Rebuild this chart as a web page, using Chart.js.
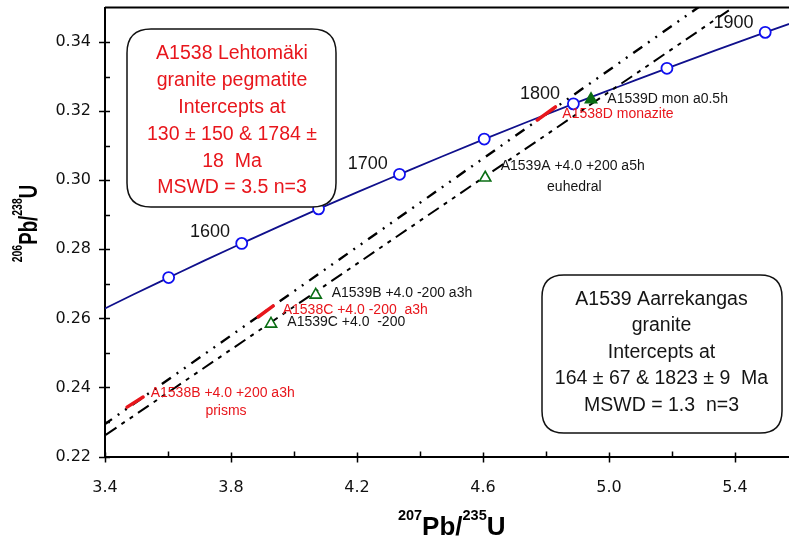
<!DOCTYPE html>
<html>
<head>
<meta charset="utf-8">
<script src="https://cdn.jsdelivr.net/npm/chart.js@4.4.1/dist/chart.umd.min.js"></script>
<style>
  html, body { margin: 0; padding: 0; background: #fff; }
  #chart { display: block; }
</style>
</head>
<body>
<canvas id="chart" width="789" height="541"></canvas>
<script>
// concordia curve, read at 25 Ma steps
var concordiaAges = [1500, 1525, 1550, 1575, 1600, 1625, 1650, 1675, 1700, 1725, 1750, 1775, 1800, 1825, 1850, 1875, 1900, 1925, 1950];
var concordiaX = [3.381, 3.490, 3.602, 3.717, 3.834, 3.955, 4.078, 4.205, 4.335, 4.468, 4.604, 4.744, 4.887, 5.034, 5.184, 5.338, 5.496, 5.658, 5.825];
var concordiaY = [0.2620, 0.2669, 0.2718, 0.2768, 0.2817, 0.2867, 0.2917, 0.2967, 0.3017, 0.3068, 0.3119, 0.3170, 0.3221, 0.3272, 0.3324, 0.3376, 0.3428, 0.3480, 0.3532];
var markerAges = [1550, 1600, 1650, 1700, 1750, 1800, 1850, 1900];

// discordia lines (two points each, beyond the plot edges)
var discordia1538X = [3.30, 5.40];
var discordia1538Y = [0.2230, 0.3575];
var discordia1539X = [3.30, 5.50];
var discordia1539Y = [0.2199, 0.3566];

// A1538 error ellipses (ends of each)
var a1538Names = ['A1538B', 'A1538C', 'A1538D'];
var a1538X = [[3.470, 3.521], [3.886, 3.934], [4.772, 4.830]];
var a1538Y = [[0.2343, 0.2372], [0.2604, 0.2636], [0.3174, 0.3212]];

// A1539 analyses
var a1539Names = ['A1539A', 'A1539B', 'A1539C', 'A1539D'];
var a1539X = [4.607, 4.069, 3.927, 4.943];
var a1539Y = [0.3007, 0.2668, 0.2584, 0.3234];
var a1539Filled = [false, false, false, true];

// axes
var xTicks = [3.4, 3.8, 4.2, 4.6, 5.0, 5.4];
var xMinor = [3.6, 4.0, 4.4, 4.8, 5.2];
var yTicks = [0.22, 0.24, 0.26, 0.28, 0.30, 0.32, 0.34];
var yMinor = [0.23, 0.25, 0.27, 0.29, 0.31, 0.33];

var RED = '#e8161c';
var GREEN = '#0a6e14';
var TXT = '#151515';

// text labels (pixel layout)
var labels = [
  { t: '1600', x: 210, y: 237.4, size: 18, c: TXT, a: 'center' },
  { t: '1700', x: 367.7, y: 169, size: 18, c: TXT, a: 'center' },
  { t: '1800', x: 540, y: 99, size: 18, c: TXT, a: 'center' },
  { t: '1900', x: 733.5, y: 27.8, size: 18, c: TXT, a: 'center' },
  { t: 'A1539D mon a0.5h', x: 607.3, y: 102.5, size: 14, c: TXT, a: 'left' },
  { t: 'A1538D monazite', x: 562.3, y: 118.3, size: 14, c: RED, a: 'left' },
  { t: 'A1539A +4.0 +200 a5h', x: 500.7, y: 170, size: 14, c: TXT, a: 'left' },
  { t: 'euhedral', x: 574.3, y: 190.5, size: 14, c: TXT, a: 'center' },
  { t: 'A1539B +4.0 -200 a3h', x: 331.7, y: 296.7, size: 14, c: TXT, a: 'left' },
  { t: 'A1538C +4.0 -200  a3h', x: 282.7, y: 314.3, size: 14, c: RED, a: 'left' },
  { t: 'A1539C +4.0  -200', x: 287.3, y: 325.7, size: 14, c: TXT, a: 'left' },
  { t: 'A1538B +4.0 +200 a3h', x: 150.7, y: 396.7, size: 14, c: RED, a: 'left' },
  { t: 'prisms', x: 226, y: 415, size: 14, c: RED, a: 'center' }
];

var boxes = [
  { x0: 127, y0: 29, x1: 336, y1: 207, r: 24, c: RED, cx: 232,
    lines: ['A1538 Lehtomäki', 'granite pegmatite', 'Intercepts at', '130 ± 150 & 1784 ±', '18  Ma', 'MSWD = 3.5 n=3'],
    base: [59.3, 86.1, 112.9, 139.7, 166.5, 193.3] },
  { x0: 542, y0: 275, x1: 782, y1: 433, r: 22, c: TXT, cx: 661.5,
    lines: ['A1539 Aarrekangas', 'granite', 'Intercepts at', '164 ± 67 & 1823 ± 9  Ma', 'MSWD = 1.3  n=3'],
    base: [304.7, 331.2, 357.7, 384.2, 410.7] }
];

function pts(xs, ys) {
  return xs.map(function (x, i) { return { x: x, y: ys[i] }; });
}

var markerPts = markerAges.map(function (a) {
  var i = concordiaAges.indexOf(a);
  return { x: concordiaX[i], y: concordiaY[i] };
});

var datasets = [];
datasets.push({
  label: 'A1539', data: pts(a1539X, a1539Y), order: 0,
  pointStyle: 'triangle', pointRadius: 6.5, borderWidth: 1.6,
  borderColor: GREEN,
  backgroundColor: a1539Filled.map(function (f) { return f ? GREEN : '#fff'; })
});
datasets.push({
  label: 'ages', data: markerPts, order: 1,
  pointStyle: 'circle', pointRadius: 5.5, borderWidth: 1.8,
  borderColor: '#1010f0', backgroundColor: '#fff'
});
a1538Names.forEach(function (n, i) {
  datasets.push({
    label: n, data: pts(a1538X[i], a1538Y[i]), order: 2,
    showLine: true, pointRadius: 0, borderWidth: 3.5, borderCapStyle: 'round',
    borderColor: RED
  });
});
datasets.push({
  label: 'disc A1538', data: pts(discordia1538X, discordia1538Y), order: 3,
  showLine: true, pointRadius: 0, borderWidth: 2.4, borderColor: '#000',
  borderDash: [11, 7, 2, 7, 2, 7]
});
datasets.push({
  label: 'disc A1539', data: pts(discordia1539X, discordia1539Y), order: 3,
  showLine: true, pointRadius: 0, borderWidth: 2, borderColor: '#000',
  borderDash: [13, 6, 4, 6, 4, 6]
});
datasets.push({
  label: 'concordia', data: pts(concordiaX, concordiaY), order: 4,
  showLine: true, pointRadius: 0, borderWidth: 1.8, borderColor: '#10108c',
  cubicInterpolationMode: 'monotone'
});

function roundBox(ctx, x0, y0, x1, y1, r) {
  ctx.beginPath();
  ctx.moveTo(x0 + r, y0);
  ctx.lineTo(x1 - r, y0);
  ctx.quadraticCurveTo(x1, y0, x1, y0 + r);
  ctx.lineTo(x1, y1 - r);
  ctx.quadraticCurveTo(x1, y1, x1 - r, y1);
  ctx.lineTo(x0 + r, y1);
  ctx.quadraticCurveTo(x0, y1, x0, y1 - r);
  ctx.lineTo(x0, y0 + r);
  ctx.quadraticCurveTo(x0, y0, x0 + r, y0);
  ctx.closePath();
}

// 207Pb/235U style title with superscripts, centred on x, baseline y
function richTitle(ctx, parts, x, y) {
  var big = 'bold 26px "Liberation Sans", Arial, sans-serif';
  var small = 'bold 14.5px "Liberation Sans", Arial, sans-serif';
  var w = 0;
  parts.forEach(function (p) { ctx.font = p.sup ? small : big; w += ctx.measureText(p.t).width; });
  var cx = x - w / 2;
  ctx.textAlign = 'left';
  ctx.textBaseline = 'alphabetic';
  parts.forEach(function (p) {
    ctx.font = p.sup ? small : big;
    ctx.fillText(p.t, cx, p.sup ? y - 15 : y);
    cx += ctx.measureText(p.t).width;
  });
}

function noPad(s) {
  s.paddingTop = 0; s.paddingBottom = 0; s.paddingLeft = 0; s.paddingRight = 0;
}

var overlay = {
  id: 'overlay',
  afterDraw: function (chart) {
    var ctx = chart.ctx, area = chart.chartArea;
    var xs = chart.scales.x, ys = chart.scales.y;
    ctx.save();
    ctx.strokeStyle = '#000';
    ctx.lineWidth = 2;
    ctx.beginPath();
    ctx.moveTo(area.left, area.top);
    ctx.lineTo(area.right, area.top);
    ctx.stroke();

    ctx.lineWidth = 1.5;
    ctx.beginPath();
    xTicks.forEach(function (v) {
      var p = Math.round(xs.getPixelForValue(v)) + 0.5;
      ctx.moveTo(p, area.bottom - 4); ctx.lineTo(p, area.bottom + 6);
    });
    xMinor.forEach(function (v) {
      var p = Math.round(xs.getPixelForValue(v)) + 0.5;
      ctx.moveTo(p, area.bottom - 5); ctx.lineTo(p, area.bottom);
    });
    yTicks.forEach(function (v) {
      var p = Math.round(ys.getPixelForValue(v)) + 0.5;
      ctx.moveTo(area.left - 6, p); ctx.lineTo(area.left + 5, p);
    });
    yMinor.forEach(function (v) {
      var p = Math.round(ys.getPixelForValue(v)) + 0.5;
      ctx.moveTo(area.left, p); ctx.lineTo(area.left + 5, p);
    });
    ctx.stroke();

    boxes.forEach(function (b) {
      roundBox(ctx, b.x0, b.y0, b.x1, b.y1, b.r);
      ctx.fillStyle = '#fff';
      ctx.fill();
      ctx.lineWidth = 1.5;
      ctx.strokeStyle = '#111';
      ctx.stroke();
      ctx.fillStyle = b.c;
      ctx.font = '19.5px "Liberation Sans", Arial, sans-serif';
      ctx.textAlign = 'center';
      ctx.textBaseline = 'alphabetic';
      b.lines.forEach(function (l, i) { ctx.fillText(l, b.cx, b.base[i]); });
    });

    labels.forEach(function (l) {
      ctx.fillStyle = l.c;
      ctx.font = l.size + 'px "Liberation Sans", Arial, sans-serif';
      ctx.textAlign = l.a;
      ctx.textBaseline = 'alphabetic';
      ctx.fillText(l.t, l.x, l.y);
    });

    ctx.fillStyle = '#000';
    richTitle(ctx, [{ t: '207', sup: true }, { t: 'Pb/' }, { t: '235', sup: true }, { t: 'U' }], 451.7, 535);

    ctx.save();
    ctx.translate(37.3, 223.5);
    ctx.rotate(-Math.PI / 2);
    ctx.scale(0.72, 1);
    richTitle(ctx, [{ t: '206', sup: true }, { t: 'Pb/' }, { t: '238', sup: true }, { t: 'U' }], 0, 0);
    ctx.restore();

    ctx.restore();
  }
};

var ctx = document.getElementById('chart').getContext('2d');
var grafico = new Chart(ctx, {
  type: 'scatter',
  data: { datasets: datasets },
  options: {
    responsive: false,
    animation: false,
    layout: { autoPadding: false, padding: { top: 7.5, right: 0, bottom: 0, left: 0 } },
    plugins: { legend: { display: false }, tooltip: { enabled: false } },
    scales: {
      x: {
        type: 'linear', min: 3.4, max: 5.5715,
        grid: { display: false, drawTicks: false },
        border: { display: true, color: '#000', width: 2 },
        afterBuildTicks: function (s) { s.ticks = xTicks.map(function (v) { return { value: v }; }); },
        afterFit: function (s) { s.height = 84.5; noPad(s); },
        ticks: {
          color: '#111', padding: 22, maxRotation: 0, autoSkip: false,
          font: { family: 'DejaVu Sans', size: 16 },
          callback: function (v) { return Number(v).toFixed(1); }
        }
      },
      y: {
        type: 'linear', min: 0.22, max: 0.35,
        grid: { display: false, drawTicks: false },
        border: { display: true, color: '#000', width: 2 },
        afterBuildTicks: function (s) { s.ticks = yTicks.map(function (v) { return { value: v }; }); },
        afterFit: function (s) { s.width = 105; noPad(s); },
        ticks: {
          color: '#111', padding: 14, autoSkip: false,
          font: { family: 'DejaVu Sans', size: 16 },
          callback: function (v) { return Number(v).toFixed(2); }
        }
      }
    }
  },
  plugins: [overlay]
});
</script>
</body>
</html>
